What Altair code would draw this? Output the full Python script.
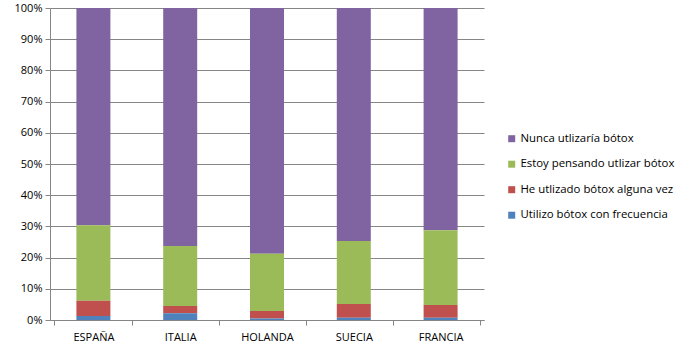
import altair as alt
import pandas as pd

countries = ["ESPAÑA", "ITALIA", "HOLANDA", "SUECIA", "FRANCIA"]
series = ["Nunca utlizaría bótox", "Estoy pensando utlizar bótox",
          "He utlizado bótox alguna vez", "Utilizo bótox con frecuencia"]
colors = ["#8064A2", "#9BBB59", "#C0504D", "#4F81BD"]

utilizo = [1.3, 2.2, 0.5, 0.7, 0.7]
he_utilizado = [4.9, 2.3, 2.4, 4.4, 4.1]
pensando = [24.2, 19.2, 18.3, 20.2, 24.0]
nunca = [69.6, 76.3, 78.8, 74.7, 71.2]

values = [nunca, pensando, he_utilizado, utilizo]
rows = []
for si, (s, vals) in enumerate(zip(series, values)):
    for c, v in zip(countries, vals):
        rows.append({"pais": c, "serie": s, "valor": v / 100.0, "orden": 3 - si})
df = pd.DataFrame(rows)

font = "Open Sans"

chart = alt.Chart(df).mark_bar(size=34).encode(
    x=alt.X("pais:N", sort=countries, title=None,
            axis=alt.Axis(labelAngle=0, tickBand="extent", tickSize=5,
                          domainColor="#868686", tickColor="#868686",
                          labelFont=font, labelFontSize=11, labelColor="#000000",
                          labelPadding=6, grid=False)),
    y=alt.Y("valor:Q", stack="zero", title=None,
            scale=alt.Scale(domain=[0, 1], nice=False),
            axis=alt.Axis(format=".0%", values=[i / 10 for i in range(11)],
                          tickSize=5, domainColor="#868686", tickColor="#868686",
                          gridColor="#868686", labelFont=font, labelFontSize=11,
                          labelColor="#000000", labelPadding=3)),
    color=alt.Color("serie:N", scale=alt.Scale(domain=series, range=colors),
                    legend=alt.Legend(title=None, orient="none", legendX=456, legendY=125,
                                      symbolType="square", symbolSize=49,
                                      symbolStrokeWidth=0, labelFont=font,
                                      labelFontSize=11.4, labelColor="#000000",
                                      rowPadding=12.5, labelOffset=3)),
    order=alt.Order("orden:Q", sort="ascending"),
).properties(
    width=434, height=312,
    background="white",
    autosize=alt.AutoSizeParams(type="none"),
    padding={"left": 50, "top": 8, "right": 200, "bottom": 33},
).configure_view(stroke="#ffffff", strokeWidth=1)

chart.save("out.html", embed_options={"renderer": "svg", "actions": False})
